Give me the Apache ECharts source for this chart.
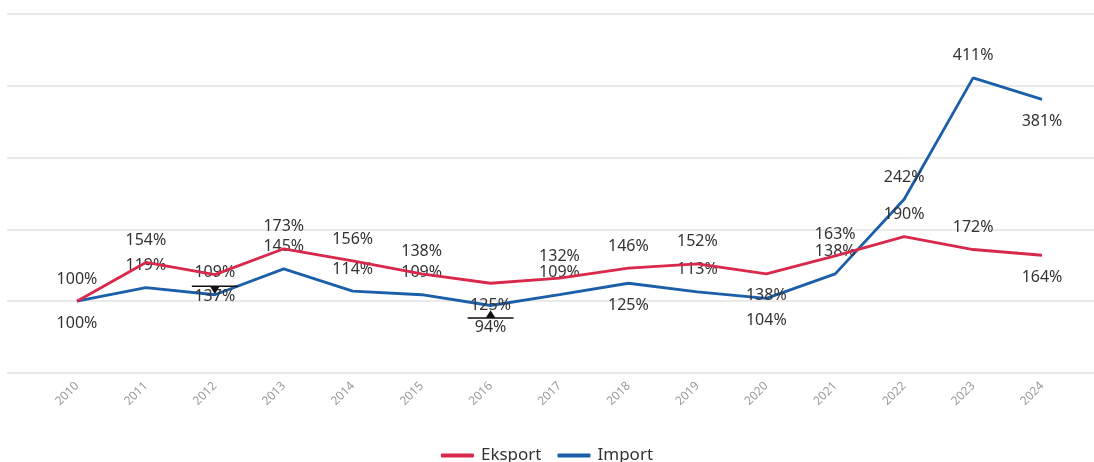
<!DOCTYPE html>
<html>
<head>
<meta charset="utf-8">
<script src="https://cdn.jsdelivr.net/npm/echarts@6/dist/echarts.min.js"></script>
<style>
html,body{margin:0;padding:0;background:#fff;}
#c{width:1094px;height:462px;}
</style>
</head>
<body>
<div id="c"></div>
<script>
const years = ['2010','2011','2012','2013','2014','2015','2016','2017','2018','2019','2020','2021','2022','2023','2024'];
const eksport = [100,154,137,173,156,138,125,132,146,152,138,163,190,172,164];
const importV = [100,119,109,145,114,109,94,109,125,113,104,138,242,411,381];
const yTicks = [0,100,200,300,400,500];

// label placement per point (layout, not data)
const eksSide = ['top','top','bottom','top','top','top','bottom','top','top','top','bottom','top','top','top','bottom'];
const impSide = ['bottom','top','top','top','top','top','bottom','top','bottom','top','bottom','top','top','top','bottom'];

const FONT = '"Noto Sans", "Open Sans", sans-serif';
const RED = '#d8284b';
const BLUE = '#1b5ea9';

function build(vals, sides) {
  return vals.map((v, i) => ({
    value: v,
    label: { position: sides[i] }
  }));
}

const chart = echarts.init(document.getElementById('c'), null, {renderer: 'canvas'});
const option = {
  animation: false,
  backgroundColor: '#fff',
  textStyle: { fontFamily: FONT },
  grid: [
    { left: 7, right: 0, top: 14, bottom: 89, containLabel: false },
    { left: 42.5, right: 17.5, top: 14, bottom: 89, containLabel: false }
  ],
  legend: {
    top: 442,
    left: 'center',
    itemWidth: 33,
    itemHeight: 4,
    itemGap: 16,
    icon: 'roundRect',
    textStyle: { fontSize: 17, color: '#333', fontFamily: FONT, padding: [0, 0, 0, 2] },
    data: ['Eksport', 'Import']
  },
  xAxis: [
    { gridIndex: 0, type: 'category', data: years, show: false },
    {
      gridIndex: 1, type: 'category', data: years, boundaryGap: true,
      axisLine: { show: false }, axisTick: { show: false },
      axisLabel: { rotate: 45, color: '#999', fontSize: 12, margin: 11, fontFamily: FONT }
    }
  ],
  yAxis: [
    {
      gridIndex: 0, type: 'value', min: yTicks[0], max: yTicks[yTicks.length - 1], interval: 100,
      axisLabel: { show: false }, axisLine: { show: false }, axisTick: { show: false },
      splitLine: { show: true, lineStyle: { color: '#e3e3e3', width: 1.5 } }
    },
    {
      gridIndex: 1, type: 'value', min: yTicks[0], max: yTicks[yTicks.length - 1], interval: 100,
      axisLabel: { show: false }, axisLine: { show: false }, axisTick: { show: false },
      splitLine: { show: false }
    }
  ],
  series: [
    {
      name: 'Eksport', type: 'line', xAxisIndex: 1, yAxisIndex: 1,
      data: build(eksport, eksSide),
      color: RED,
      lineStyle: { color: RED, width: 2.8 },
      symbol: 'circle', symbolSize: 0.01, showSymbol: true,
      itemStyle: { color: RED },
      label: { show: true, distance: 14, fontSize: 16, color: '#333', fontFamily: FONT, formatter: p => p.value + '%' },
      markPoint: {
        silent: true,
        label: { show: false },
        symbol: 'path://M0,0 L46,0 L46,1.5 L0,1.5 Z M18.5,1.5 L27.5,1.5 L23,8.5 Z',
        symbolSize: [46, 8.5],
        symbolOffset: [0, 15],
        symbolKeepAspect: false,
        itemStyle: { color: '#111' },
        data: [{ coord: [years[2], eksport[2]] }]
      },
      z: 3
    },
    {
      name: 'Import', type: 'line', xAxisIndex: 1, yAxisIndex: 1,
      data: build(importV, impSide),
      color: BLUE,
      lineStyle: { color: BLUE, width: 2.8 },
      symbol: 'circle', symbolSize: 0.01, showSymbol: true,
      itemStyle: { color: BLUE },
      label: { show: true, distance: 14, fontSize: 16, color: '#333', fontFamily: FONT, formatter: p => p.value + '%' },
      markPoint: {
        silent: true,
        label: { show: false },
        symbol: 'path://M18.5,7 L27.5,7 L23,0 Z M0,7 L46,7 L46,8.5 L0,8.5 Z',
        symbolSize: [46, 8.5],
        symbolOffset: [0, 9],
        symbolKeepAspect: false,
        itemStyle: { color: '#111' },
        data: [{ coord: [years[6], importV[6]] }]
      },
      z: 2
    }
  ]
};
chart.setOption(option);
</script>
</body>
</html>
